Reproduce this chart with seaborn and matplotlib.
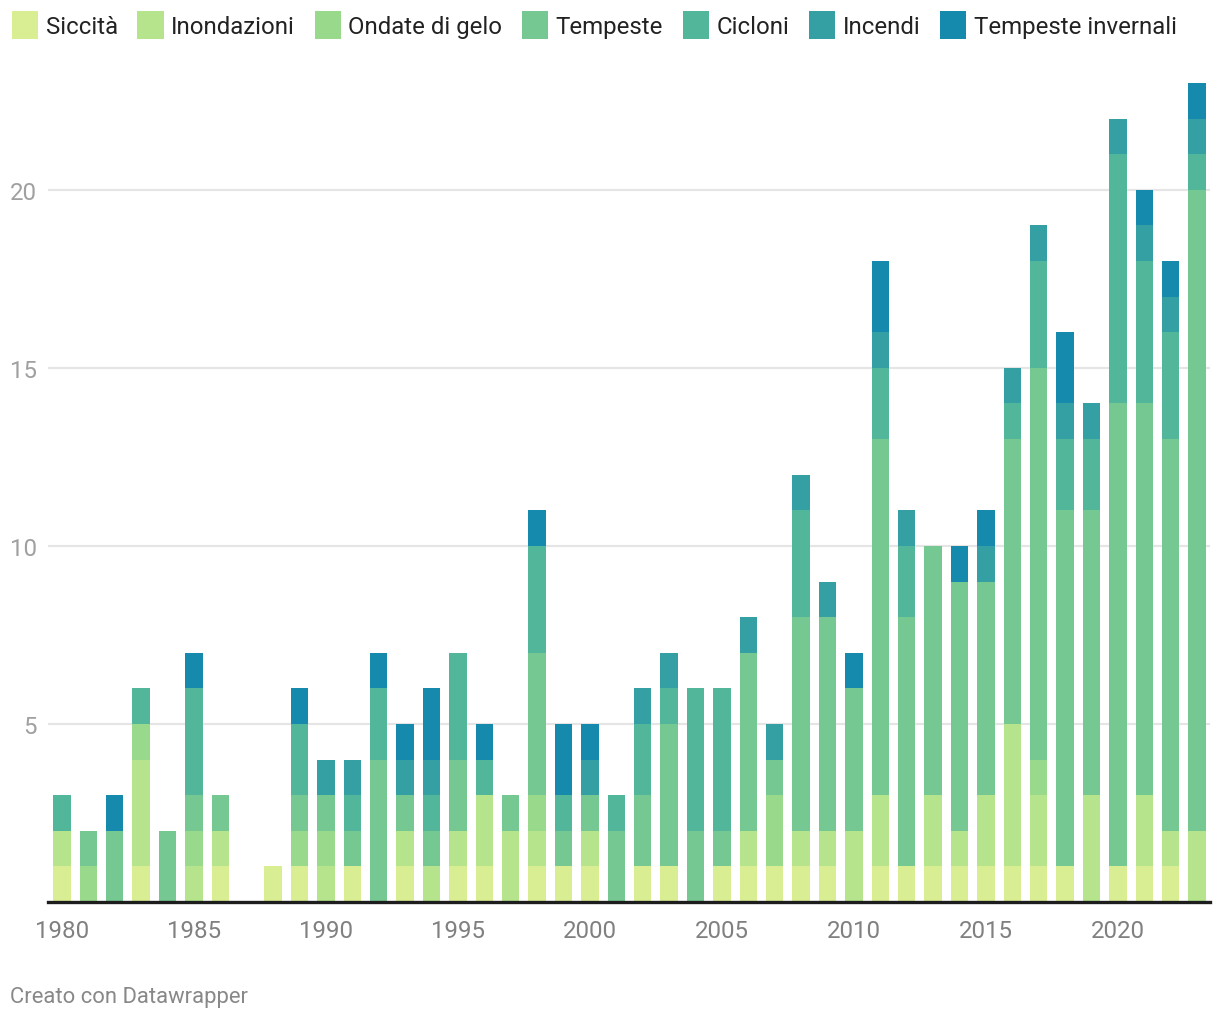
import matplotlib.pyplot as plt
from matplotlib.patches import Patch
import pandas as pd
import seaborn as sns

years = list(range(1980, 2024))

# eventi per anno, 1980-2023
siccita = [1, 0, 0, 1, 0, 0, 1, 0, 1, 1,
           0, 1, 0, 1, 0, 1, 1, 0, 1, 1,
           1, 0, 1, 1, 0, 1, 1, 1, 1, 1,
           0, 1, 1, 1, 1, 1, 1, 1, 1, 0,
           1, 1, 1, 0]
inondazioni = [1, 0, 0, 3, 0, 1, 1, 0, 0, 0,
               1, 0, 0, 1, 1, 1, 2, 2, 1, 0,
               1, 0, 0, 0, 0, 0, 1, 0, 1, 1,
               2, 2, 0, 2, 1, 2, 4, 2, 0, 3,
               0, 2, 1, 2]
ondate_gelo = [0, 1, 0, 1, 0, 1, 0, 0, 0, 1,
               1, 0, 0, 0, 0, 0, 0, 0, 1, 0,
               0, 0, 0, 0, 0, 0, 0, 2, 0, 0,
               0, 0, 0, 0, 0, 0, 0, 1, 0, 0,
               0, 0, 0, 0]
tempeste = [0, 1, 2, 0, 2, 1, 1, 0, 0, 1,
            1, 1, 4, 1, 1, 2, 0, 1, 4, 1,
            1, 2, 2, 4, 2, 1, 5, 1, 6, 6,
            4, 10, 7, 7, 7, 6, 8, 11, 10, 8,
            13, 11, 11, 18]
cicloni = [1, 0, 0, 1, 0, 3, 0, 0, 0, 2,
           0, 1, 2, 0, 1, 3, 1, 0, 3, 1,
           0, 1, 2, 1, 4, 4, 0, 0, 3, 0,
           0, 2, 2, 0, 0, 0, 1, 3, 2, 2,
           7, 4, 3, 1]
incendi = [0, 0, 0, 0, 0, 0, 0, 0, 0, 0,
           1, 1, 0, 1, 1, 0, 0, 0, 0, 0,
           1, 0, 1, 1, 0, 0, 1, 1, 1, 1,
           0, 1, 1, 0, 0, 1, 1, 1, 1, 1,
           1, 1, 1, 1]
tempeste_invernali = [0, 0, 1, 0, 0, 1, 0, 0, 0, 1,
                      0, 0, 1, 1, 2, 0, 1, 0, 1, 2,
                      1, 0, 0, 0, 0, 0, 0, 0, 0, 0,
                      1, 2, 0, 0, 1, 1, 0, 0, 2, 0,
                      0, 1, 1, 1]

categories = ['Siccità', 'Inondazioni', 'Ondate di gelo', 'Tempeste',
              'Cicloni', 'Incendi', 'Tempeste invernali']
colors = ['#d9ed92', '#b5e48c', '#99d98c', '#76c893',
          '#52b69a', '#34a0a4', '#168aad']
x_ticks = [1980, 1985, 1990, 1995, 2000, 2005, 2010, 2015, 2020]
y_ticks = [5, 10, 15, 20]

series = [siccita, inondazioni, ondate_gelo, tempeste, cicloni, incendi, tempeste_invernali]
rows = []
for cat, values in zip(categories, series):
    for year, v in zip(years, values):
        rows.append({'year': year, 'category': cat, 'count': v})
df = pd.DataFrame(rows)

sns.set_style('white')
plt.rcParams['font.family'] = ['Roboto', 'DejaVu Sans']

fig = plt.figure(figsize=(12.2, 10.2), dpi=100)
ax = fig.add_axes([0.0393, 0.1147, 0.9525, 0.803])

# histplot stacks the last hue level at the bottom, so reverse the order
sns.histplot(data=df, x='year', weights='count', hue='category',
             hue_order=categories[::-1], palette=dict(zip(categories, colors)),
             multiple='stack', discrete=True, shrink=0.66,
             linewidth=0, alpha=1, legend=False, ax=ax)

ax.set_xlim(1979.47, 2023.49)
ax.set_ylim(0, 23)
ax.set_xticks(x_ticks)
ax.set_xticklabels([str(t) for t in x_ticks])
ax.set_yticks(y_ticks)
ax.set_yticklabels([str(t) for t in y_ticks])
ax.set_xlabel('')
ax.set_ylabel('')

ax.set_axisbelow(True)
ax.yaxis.grid(True, color='#e5e5e5', linewidth=1.6)
ax.xaxis.grid(False)
sns.despine(ax=ax, left=True)
ax.spines['bottom'].set_color('#1d1d1d')
ax.spines['bottom'].set_linewidth(2.4)

ax.tick_params(axis='x', length=0, pad=12, labelsize=17.3, labelcolor='#808080')
ax.tick_params(axis='y', length=0, pad=8, labelsize=17.3, labelcolor='#a0a0a0')

handles = [Patch(facecolor=c, edgecolor='none', linewidth=0) for c in colors]
fig.legend(handles, categories, loc='center left', bbox_to_anchor=(0.0098, 0.9745),
           ncol=7, frameon=False, fontsize=17.3, labelcolor='#222222',
           handlelength=1.1, handleheight=1.45, handletextpad=0.3,
           columnspacing=0.82, borderpad=0, borderaxespad=0)

fig.text(0.008, 0.0225, 'Creato con Datawrapper', color='#888888',
         fontsize=15.8, va='center', ha='left')

fig.savefig('out.png', dpi=100)
plt.close(fig)
